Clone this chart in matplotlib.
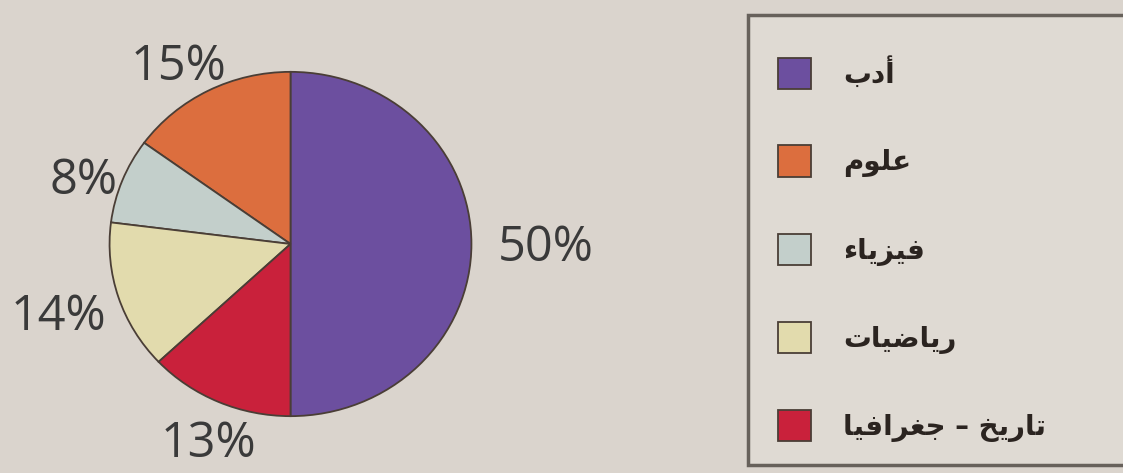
import matplotlib
matplotlib.use("Agg")
import matplotlib.pyplot as plt
from matplotlib.patches import Rectangle
import numpy as np

# ---- data ----
subjects = ['أدب', 'علوم', 'فيزياء', 'رياضيات', 'تاريخ – جغرافيا']
shares = [50, 15, 8, 14, 13]
pct_labels = ['50%', '15%', '8%', '14%', '13%']
colors = ['#6c4f9f', '#dc6e3e', '#c3cfcb', '#e2dbad', '#c9213b']

# ---- minimal Arabic shaping (matplotlib has no complex text layout) ----
AR = {
    '\u0621': ('\uFE80', None, None, None),
    '\u0623': ('\uFE83', '\uFE84', None, None),
    '\u0627': ('\uFE8D', '\uFE8E', None, None),
    '\u0628': ('\uFE8F', '\uFE90', '\uFE91', '\uFE92'),
    '\u062A': ('\uFE95', '\uFE96', '\uFE97', '\uFE98'),
    '\u062C': ('\uFE9D', '\uFE9E', '\uFE9F', '\uFEA0'),
    '\u062E': ('\uFEA5', '\uFEA6', '\uFEA7', '\uFEA8'),
    '\u062F': ('\uFEA9', '\uFEAA', None, None),
    '\u0631': ('\uFEAD', '\uFEAE', None, None),
    '\u0632': ('\uFEAF', '\uFEB0', None, None),
    '\u0636': ('\uFEBD', '\uFEBE', '\uFEBF', '\uFEC0'),
    '\u0639': ('\uFEC9', '\uFECA', '\uFECB', '\uFECC'),
    '\u063A': ('\uFECD', '\uFECE', '\uFECF', '\uFED0'),
    '\u0641': ('\uFED1', '\uFED2', '\uFED3', '\uFED4'),
    '\u0644': ('\uFEDD', '\uFEDE', '\uFEDF', '\uFEE0'),
    '\u0645': ('\uFEE1', '\uFEE2', '\uFEE3', '\uFEE4'),
    '\u0648': ('\uFEED', '\uFEEE', None, None),
    '\u064A': ('\uFEF1', '\uFEF2', '\uFEF3', '\uFEF4'),
}


def shape(s):
    out = []
    for i, c in enumerate(s):
        if c not in AR:
            out.append(c)
            continue
        f = AR[c]
        prev = s[i - 1] if i > 0 else None
        nxt = s[i + 1] if i + 1 < len(s) else None
        jp = prev in AR and AR[prev][2] is not None
        jn = f[2] is not None and nxt in AR and AR[nxt][1] is not None
        if jp and jn:
            g = f[3]
        elif jp:
            g = f[1]
        elif jn:
            g = f[2]
        else:
            g = f[0]
        out.append(g)
    return ''.join(reversed(out))


W, H = 1123, 473
bg = '#dad4cd'
fig = plt.figure(figsize=(W / 100, H / 100), dpi=100, facecolor=bg)

# pie axes (slightly elliptical like the photographed original)
ax = fig.add_axes([1 / W, -12 / H, 579 / W, 482 / H])
ax.set_facecolor(bg)
wedges, texts = ax.pie(
    shares, colors=colors, startangle=-90, counterclock=True,
    labels=pct_labels, labeldistance=1.2,
    wedgeprops=dict(edgecolor='#4a3e36', linewidth=1.3),
    textprops=dict(fontsize=35, family='Open Sans', color='#3a3a3a'),
)
ax.set_aspect('auto')
ax.set_xlim(-1.6, 1.6)
ax.set_ylim(-1.4, 1.4)
ax.axis('off')

label_dist = [1.41, 1.2, 1.2, 1.35, 1.25]
label_turn = [-1, 4, 4, 0.5, 2]
for w, t, d, a in zip(wedges, texts, label_dist, label_turn):
    ang = np.deg2rad((w.theta1 + w.theta2) / 2 + a)
    t.set_position((d * np.cos(ang), d * np.sin(ang)))
    t.set_ha('center')
    t.set_va('center')

# legend frame
fig.patches.append(Rectangle((748 / W, (H - 465) / H), (W - 748 + 10) / W, 450 / H,
                             transform=fig.transFigure, facecolor='#dfdad3',
                             edgecolor='#67615b', linewidth=2.5, zorder=0))

leg = fig.legend(
    wedges, [shape(s) for s in subjects],
    loc='upper left', bbox_to_anchor=(778 / W, (H - 57) / H),
    frameon=False,
    prop=dict(family='DejaVu Sans', weight='bold', size=20),
    handlelength=1.2, handleheight=1.37, handletextpad=1.15,
    labelspacing=2.02, borderpad=0, borderaxespad=0,
)
for t in leg.get_texts():
    t.set_color('#2b2420')

fig.savefig('out.png', dpi=100, facecolor=bg)
